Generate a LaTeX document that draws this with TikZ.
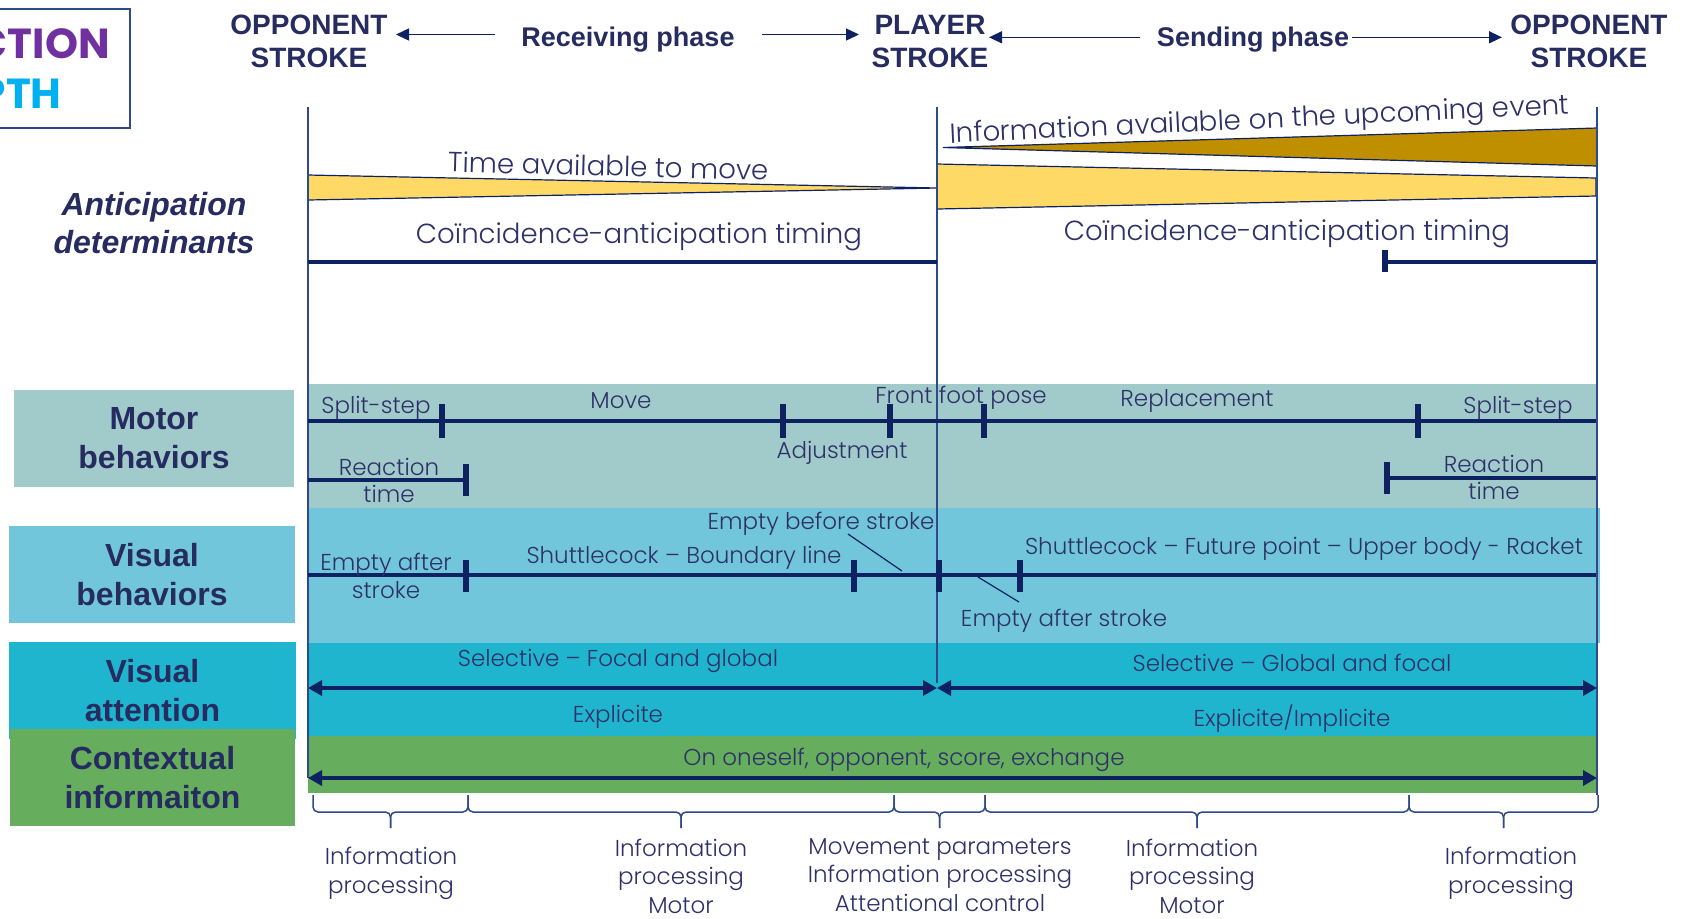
\documentclass[tikz,border=0pt]{standalone}
\usepackage{fontspec}
\newfontfamily\bodyfont{Poppins}[UprightFont={* Light}]
\newfontfamily\geofont{Poppins}
\newfontfamily\labfont{Liberation Sans}
\usetikzlibrary{arrows.meta}
\definecolor{navy}{HTML}{262B60}
\definecolor{ink}{HTML}{2E3168}
\definecolor{lineblue}{HTML}{0E2161}
\definecolor{vline}{HTML}{2F4A8A}
\definecolor{motorc}{HTML}{A1CBCB}
\definecolor{visc}{HTML}{71C6DC}
\definecolor{attc}{HTML}{20B5CF}
\definecolor{ctxc}{HTML}{66AD5E}
\definecolor{lgold}{HTML}{FFD966}
\definecolor{dgold}{HTML}{BF8F00}
\definecolor{purp}{HTML}{7030A0}
\definecolor{cyanc}{HTML}{00B0F0}
\begin{document}
\begin{tikzpicture}[x=0.5pt,y=-0.5pt,
  txt/.style={font=\bodyfont\fontsize{11.5}{14.25}\selectfont, text=ink, inner sep=0pt, align=center},
  bigtxt/.style={txt, font=\bodyfont\fontsize{13.8}{16}\selectfont},
  lab/.style={font=\labfont\bfseries\fontsize{16}{19.5}\selectfont, text=navy, align=center},
  hdr/.style={font=\labfont\bfseries\fontsize{14}{16.5}\selectfont, text=navy, align=center, inner sep=0pt},
  phase/.style={font=\labfont\bfseries\fontsize{13.5}{16}\selectfont, text=navy, inner sep=0pt},
  bar/.style={draw=lineblue, line width=2.3pt},
  tickmark/.style={draw=lineblue, line width=2.6pt},
  thinline/.style={draw=lineblue, line width=0.6pt},
  vrule/.style={draw=vline, line width=0.7pt},
  dbl/.style={lineblue, line width=2.3pt, {Triangle[length=7pt,width=7.5pt]}-{Triangle[length=7pt,width=7.5pt]}},
  hdrarrow/.style={lineblue, line width=0.7pt, -{Triangle[length=6.5pt,width=6pt]}},
  brline/.style={draw=vline, line width=0.75pt, rounded corners=2.5pt},
  labbox/.style={lab, minimum width=140pt, minimum height=48.5pt, inner sep=0pt},
  wedge/.style={draw=lineblue, line width=0.6pt},
  ttl/.style={font=\geofont\bfseries\fontsize{21}{21}\selectfont, anchor=east, inner sep=0pt}
]
\useasboundingbox (0,0) rectangle (1682,918);
\clip (0,0) rectangle (1682,918);
\fill[white] (0,0) rectangle (1682,918);

% title box (cut at the left edge, as in the reference)
\draw[draw=vline, line width=0.8pt] (-5,9) rectangle (130,128);
\node[ttl, text=purp] (t1) at (110,43.5) {CTION};
\node[ttl, text=cyanc] (t2) at (62,94) {PTH};

% headers
\node[hdr] (opp1) at (309,41.5) {OPPONENT\\STROKE};
\node[hdr] (play) at (930,41.5) {PLAYER\\STROKE};
\node[hdr] (opp2) at (1589,41.5) {OPPONENT\\STROKE};
\node[phase] (recv) at (628,40) {Receiving phase};
\node[phase] (send) at (1253,40) {Sending phase};
\coordinate (a1s) at (495,34.5); \coordinate (a1e) at (396,34.5);
\coordinate (a2s) at (762,34.5); \coordinate (a2e) at (859,34.5);
\coordinate (a3s) at (1140,37.3); \coordinate (a3e) at (989,37.3);
\coordinate (a4s) at (1352,37.3); \coordinate (a4e) at (1502,37.3);
\draw[hdrarrow] (a1s) -- (a1e);
\draw[hdrarrow] (a2s) -- (a2e);
\draw[hdrarrow] (a3s) -- (a3e);
\draw[hdrarrow] (a4s) -- (a4e);

% anticipation
\node[lab, font=\labfont\bfseries\itshape\fontsize{16}{19}\selectfont] (antic) at (154,223) {Anticipation\\determinants};

% bands
\fill[motorc] (308,384) rectangle (1597,508);
\fill[visc] (308,508) rectangle (1600,643);
\fill[attc] (308,643) rectangle (1597,736);
\fill[ctxc] (308,736) rectangle (1597,793);

% left labels
\node[labbox, fill=motorc] (lm) at (154,438.5) {Motor\\behaviors};
\node[labbox, fill=visc, minimum width=143pt] (lv) at (152,574.5) {Visual\\behaviors};
\node[labbox, fill=attc, minimum width=143.5pt] (la) at (152.5,690.5) {Visual\\attention};
\node[labbox, fill=ctxc, minimum width=142.5pt] (lc) at (152.5,777.5) {Contextual\\informaiton};

% wedges
\draw[wedge, fill=lgold] (308,175) -- (937,188) -- (308,200) -- cycle;
\draw[wedge, fill=dgold] (943,147.5) -- (1597,128) -- (1597,166) -- cycle;
\draw[wedge, fill=lgold] (937,164) -- (1596,178) -- (1596,196) -- (937,209) -- cycle;

% vertical rules
\draw[vrule] (308,107) -- (308,778);
\draw[vrule] (937,107) -- (937,683);
\draw[vrule] (1597,107) -- (1597,795);

% coincidence timing
\draw[bar] (308,262) -- (937,262);
\draw[bar] (1385,262) -- (1596,262);
\draw[tickmark] (1385,250) -- (1385,272);

% motor timeline
\draw[bar] (308,421) -- (1596,421);
\foreach \x in {442,783,890,984,1418} \draw[tickmark] (\x,404) -- (\x,438);
\draw[bar] (308,480) -- (466,480);
\draw[tickmark] (466,464) -- (466,496);
\draw[bar] (1387,478) -- (1596,478);
\draw[tickmark] (1387,462) -- (1387,494);

% visual timeline
\draw[bar] (308,575) -- (1596,575);
\foreach \x in {466,854,939,1020} \draw[tickmark] (\x,560) -- (\x,592);
\draw[thinline] (848,534) -- (902,571);
\draw[thinline] (978,577) -- (1019,602);

% attention & context arrows
\draw[dbl] (308,688) -- (937,688);
\draw[dbl] (937,688) -- (1597,688);
\draw[dbl] (308,778) -- (1597,778);

% braces
\foreach \a/\m/\b in {313/390.5/468, 468/681/894, 894/939.5/985, 985/1197/1409, 1409/1503.5/1598} {
  \draw[brline] (\a,795) -- (\a,812) -- (\m,812) -- (\m,828);
  \draw[brline] (\b,795) -- (\b,812) -- (\m,812) -- (\m,828);
}

% texts
\node[bigtxt, rotate=-1.45, anchor=base] (tam) at (608,176) {Time available to move};
\node[bigtxt] (cat1) at (639,237) {Coïncidence-anticipation timing};
\node[bigtxt, rotate=2.7, anchor=base] (info) at (1260,128.5) {Information available on the upcoming event};
\node[bigtxt] (cat2) at (1287,234) {Coïncidence-anticipation timing};

\node[txt] (ss1) at (376,408) {Split-step};
\node[txt] (mv) at (621,401) {Move};
\node[txt] (ffp) at (961,398) {Front foot pose};
\node[txt] (adj) at (842,453) {Adjustment};
\node[txt] (rep) at (1197,401) {Replacement};
\node[txt] (ss2) at (1518,408) {Split-step};
\node[txt, font=\bodyfont\fontsize{11.5}{13.5}\selectfont] (rt1) at (389,480) {Reaction\\time};
\node[txt, font=\bodyfont\fontsize{11.5}{13.5}\selectfont] (rt2) at (1494,477) {Reaction\\time};

\node[txt] (eas1) at (386,576) {Empty after\\stroke};
\node[txt] (sbl) at (684,558) {Shuttlecock – Boundary line};
\node[txt] (ebs) at (821,524) {Empty before stroke};
\node[txt] (eas2) at (1064,621) {Empty after stroke};
\node[txt] (sfp) at (1304,549) {Shuttlecock – Future point – Upper body - Racket};

\node[txt] (sel1) at (618,661) {Selective – Focal and global};
\node[txt] (exp1) at (618,717) {Explicite};
\node[txt] (sel2) at (1292,663) {Selective – Global and focal};
\node[txt] (exp2) at (1292,719) {Explicite/Implicite};
\node[txt] (ctx) at (904,760) {On oneself, opponent, score, exchange};

\node[txt] (b1) at (391,873.5) {Information\\processing};
\node[txt] (b2) at (681,876) {Information\\processing\\Motor};
\node[txt] (b3) at (940,875) {Movement parameters\\Information processing\\Attentional control};
\node[txt] (b4) at (1192,876) {Information\\processing\\Motor};
\node[txt] (b5) at (1511,873.5) {Information\\processing};
\end{tikzpicture}
\end{document}
